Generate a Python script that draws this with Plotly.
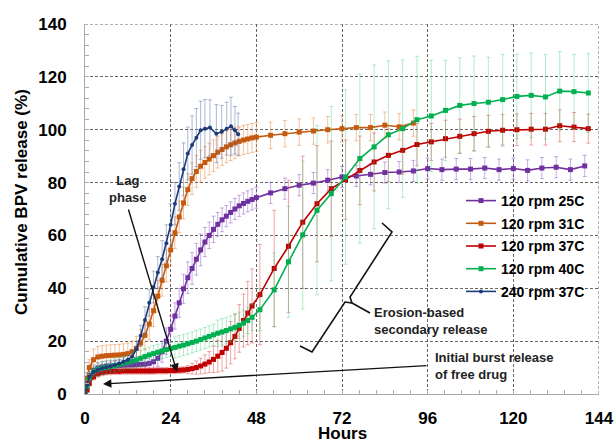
import plotly.graph_objects as go

# ---------------- data ----------------
SERIES_NAMES = ["120 rpm 25C", "120 rpm 31C", "120 rpm 37C", "120 rpm 40C", "240 rpm 37C"]

hours_25c = [0, 0.6, 1.2, 2.4, 3.6, 4.8, 6.0, 7.2, 8.4, 9.6, 10.8, 12.0, 13.2, 14.4, 15.6, 16.8, 18.0, 19.2,
             20.4, 21.6, 22.8, 24.0, 25.2, 26.4, 27.6, 28.8, 30.0, 31.2, 32.4, 33.6, 34.8, 36.0, 37.2, 38.4,
             39.6, 40.8, 42.0, 43.2, 44.4, 45.6, 46.8, 48.0,
             52, 56, 60, 64, 68, 72, 76, 80, 84, 88, 92, 96, 100, 104, 108, 112, 116, 120, 124, 128, 132, 136, 140]
release_25c = [0, 4, 7, 9, 9.8, 10.2, 10.5, 10.6, 10.7, 10.8, 10.9, 11, 11, 11.1, 11.2, 11.3, 11.6, 12.2,
               13.5, 16, 20, 24.5, 29.5, 34.5, 39.8, 44, 47.5, 51, 54.5, 57.5, 60, 62.3, 64.2, 65.9,
               67.3, 68.7, 70, 71.2, 72.1, 72.9, 73.6, 74.3,
               76.1, 77.7, 79, 79.8, 80.9, 82.1, 82.5, 83.1, 83.8, 84, 84.4, 85.3, 84.9, 85.1, 85.1, 85.5, 84.9,
               85.3, 84.6, 85.5, 85.8, 84.9, 86.3]
sd_25c = [0, 1, 1.5, 2, 2, 2, 2, 2, 2, 2, 2, 2, 2, 2, 2, 2, 2, 2.5,
          3, 4, 5, 5, 5, 5.5, 5.5, 6, 6, 6, 6, 5.5, 5, 5, 4.5, 4.5,
          4, 4, 4, 4, 4, 4, 4, 4,
          4, 4, 4, 4, 4, 4, 4, 4, 4, 4, 4, 4, 4, 4, 4, 4, 4, 4, 4, 4, 4, 4, 4]

hours_31c = [0, 0.6, 1.2, 2.4, 3.6, 4.8, 6.0, 7.2, 8.4, 9.6, 10.8, 12.0, 13.2, 14.4, 15.6, 16.8, 18.0, 19.2,
             20.4, 21.6, 22.8, 24.0, 25.2, 26.4, 27.6, 28.8, 30.0, 31.2, 32.4, 33.6, 34.8, 36.0, 37.2, 38.4,
             39.6, 40.8, 42.0, 43.2, 44.4, 45.6, 46.8, 48.0,
             52, 56, 60, 64, 68, 72, 76, 80, 84, 88, 92]
release_31c = [0, 6, 10, 13, 14, 14.3, 14.5, 14.6, 14.7, 14.8, 15, 15.3, 16, 17.3, 19.3, 22.2, 26.5, 31.5,
               37, 43, 48.5, 54.5, 61, 67, 72.3, 77.3, 81.5, 84.2, 86.2, 87.6, 88.9, 90.2, 91.5, 92.5,
               93.5, 94.3, 95, 95.6, 96.1, 96.5, 96.9, 97.2,
               97.9, 98.5, 99.1, 99.5, 100, 100.4, 100.8, 100.8, 101.7, 101.1, 102.5]
sd_31c = [0, 2, 3, 4, 4, 4, 4, 4, 4, 4, 4, 4, 4, 4.5, 5, 5.5, 6, 6,
          6, 6, 6, 6, 6, 6, 6, 6, 6, 6, 6, 6, 6, 6, 6, 6,
          6, 6, 6, 5.5, 5.5, 5.5, 5.5, 5.5,
          5, 5, 5, 5, 5, 5, 5, 5, 5, 5, 5]

hours_37c = [0, 0.6, 1.2, 2.4, 3.6, 4.8, 6.0, 7.2, 8.4, 9.6, 10.8, 12.0, 13.2, 14.4, 15.6, 16.8, 18.0, 19.2,
             20.4, 21.6, 22.8, 24.0, 25.2, 26.4, 27.6, 28.8, 30.0, 31.2, 32.4, 33.6, 34.8, 36.0, 37.2, 38.4,
             39.6, 40.8, 42.0, 43.2, 44.4, 45.6, 46.8,
             49, 53, 57, 61, 65, 69, 73, 77, 81, 85, 89, 93, 97, 101, 105, 109, 113, 117, 121, 125, 129,
             133, 137, 141]
release_37c = [0, 1.5, 4, 6.5, 7.6, 8.1, 8.4, 8.5, 8.6, 8.6, 8.7, 8.7, 8.7, 8.7, 8.7, 8.7, 8.7, 8.7,
               8.8, 8.8, 8.8, 8.9, 8.9, 9.0, 9.1, 9.3, 9.6, 10, 10.6, 11.3, 12.1, 13.1, 14.3, 15.7,
               17.3, 19.4, 21.8, 24.8, 27.8, 30.6, 33.3,
               37.6, 47.5, 55.9, 65, 72, 77.7, 81.1, 84.6, 87.8, 90.3, 92.2, 94.4, 95.4, 96.6, 97.5, 98.5,
               99.4, 99.8, 100, 100.2, 100.2, 101.5, 101, 100.4]
sd_37c = [0, 0.5, 1, 1.2, 1.2, 1.2, 1.2, 1.2, 1.2, 1.2, 1.2, 1.2, 1.2, 1.2, 1.2, 1.2, 1.2, 1.2,
          1.2, 1.2, 1.2, 1.2, 1.2, 1.2, 1.2, 1.5, 2, 2.5, 3, 3.5, 4, 5, 6, 7,
          7.5, 8, 8.5, 9, 10, 12, 14,
          19, 22, 25, 25, 22, 18, 15, 13, 11, 10, 9, 8, 7, 7, 6.5, 6.5, 6, 6, 6, 6, 6, 6, 5.5, 5.5]

hours_40c = list(hours_37c)
release_40c = [0, 3, 6, 8.5, 9.3, 9.8, 10.1, 10.4, 10.8, 11.2, 11.6, 12, 12.4, 12.9, 13.5, 14.2, 14.8, 15.3,
               15.8, 16.3, 16.8, 17.2, 17.6, 18.1, 18.5, 19, 19.5, 20, 20.6, 21.2, 21.8, 22.4, 23, 23.5,
               24, 24.6, 25.2, 26, 26.8, 27.8, 29,
               31.9, 39.4, 50, 60.2, 69.5, 75.8, 82.1, 89.1, 93.5, 98.1, 100.4, 103.8, 105.2, 107.3, 109.2,
               109.9, 110.4, 111.4, 112.6, 113, 112.4, 114.6, 114.4, 113.9]
sd_40c = [0, 1, 1.5, 2, 2.5, 2.5, 2.5, 2.5, 2.5, 2.5, 2.5, 2.5, 3, 3, 3, 3, 3, 3,
          3, 3, 3, 3, 4, 4, 4, 4, 4, 4, 4, 4, 4, 4, 5, 5,
          5, 5, 5, 5, 5, 5, 5,
          8, 14, 21, 28, 32, 33, 33, 32, 31, 28, 26, 24, 21, 19, 18, 18, 17, 17, 16, 16, 16, 15, 14, 15]

hours_240 = [0, 0.6, 1.2, 2.4, 3.6, 4.8, 6.0, 7.2, 8.4, 9.6, 10.8, 12.0, 13.2, 14.4, 15.6, 16.8, 18.0, 19.2,
             20.4, 21.6, 22.8, 24.0, 25.2, 26.4, 27.6, 28.8, 30.0,
             31.2, 32.4, 33.6, 35.0, 36.8, 38.3, 39.7, 40.9, 42.0, 42.9]
release_240 = [0, 3.5, 6.5, 8.3, 9.2, 9.7, 10.1, 10.5, 11, 11.5, 12.2, 13, 14.2, 17, 22, 28, 34.5, 40.5,
               46, 51, 57, 64, 72, 78.5, 85, 91, 94.2,
               97, 99.8, 100.4, 100.8, 98.5, 99.2, 100.4, 101.3, 99.8, 98.3]
sd_240 = [0, 1, 1.5, 1.5, 1.5, 1.5, 1.5, 1.5, 1.5, 1.5, 1.5, 1.5, 2, 3, 4, 5, 5, 6,
          6, 7, 7, 8, 8, 9, 10, 10, 11,
          11, 11, 11, 10.5, 11, 10, 10, 11, 9, 8]

X_TICKS = [0, 24, 48, 72, 96, 120, 144]
Y_TICKS = [0, 20, 40, 60, 80, 100, 120, 140]

# ---------------- styling ----------------
COLORS = ["#7030A0", "#C55A11", "#C00000", "#00B050", "#1F3A78"]
ERR_COLORS = ["rgba(130,70,190,0.45)", "rgba(235,135,60,0.5)", "rgba(220,60,60,0.45)",
              "rgba(40,200,110,0.35)", "rgba(70,100,160,0.45)"]
SYMBOLS = ["square", "square", "square", "square", "circle"]
SIZES = [5, 5, 5, 5, 4]
FONT = "Arial, Liberation Sans, sans-serif"

series = [
    (hours_25c, release_25c, sd_25c),
    (hours_31c, release_31c, sd_31c),
    (hours_37c, release_37c, sd_37c),
    (hours_40c, release_40c, sd_40c),
    (hours_240, release_240, sd_240),
]

fig = go.Figure()
for i, (xs, ys, es) in enumerate(series):
    fig.add_trace(go.Scatter(
        x=xs, y=ys, name=SERIES_NAMES[i], mode="lines+markers", legendgroup="g%d" % i,
        line=dict(color=COLORS[i], width=1.6),
        marker=dict(symbol=SYMBOLS[i], size=SIZES[i], color=COLORS[i]),
        error_y=dict(type="data", array=es, visible=True, color=ERR_COLORS[i],
                     thickness=1, width=2),
    ))

PX_L, PX_R, PX_T, PX_B = 85, 599, 24, 394


def dx(px):
    return (px - PX_L) / (PX_R - PX_L) * 144


def dy(py):
    return (PX_B - py) / (PX_B - PX_T) * 140


ann_font = dict(family=FONT, size=13, color="#222", weight="bold")
annotations = [
    dict(x=dx(128), y=dy(189), xref="x", yref="y", text="Lag<br>phase", showarrow=False,
         font=ann_font, align="center"),
    dict(x=dx(177), y=dy(372), ax=dx(128), ay=dy(208), xref="x", yref="y", axref="x", ayref="y",
         text="", showarrow=True, arrowhead=2, arrowsize=1.2, arrowwidth=1.4, arrowcolor="#111"),
    dict(x=dx(103), y=dy(384), ax=dx(428), ay=dy(365.5), xref="x", yref="y", axref="x", ayref="y",
         text="", showarrow=True, arrowhead=2, arrowsize=1.2, arrowwidth=1.4, arrowcolor="#111"),
    dict(x=dx(372), y=dy(321), xref="x", yref="y", xanchor="left", text="Erosion-based<br>secondary release",
         showarrow=False, font=ann_font, align="left"),
    dict(x=dx(433), y=dy(366), xref="x", yref="y", xanchor="left", text="Initial burst release<br>of free drug",
         showarrow=False, font=ann_font, align="left"),
    dict(x=(21 - PX_L) / (PX_R - PX_L), y=(PX_B - 202) / (PX_B - PX_T), xref="paper", yref="paper",
         xanchor="center", yanchor="middle",
         text="Cumulative BPV release (%)", textangle=-90, showarrow=False,
         font=dict(family=FONT, size=17, color="black", weight="bold")),
    dict(x=(342 - PX_L) / (PX_R - PX_L), y=(PX_B - 433) / (PX_B - PX_T), xref="paper", yref="paper",
         xanchor="center", yanchor="middle", text="Hours", showarrow=False,
         font=dict(family=FONT, size=17, color="black", weight="bold")),
]

brace = "M {},{} L {},{} L {},{} L {},{} L {},{} L {},{} L {},{}".format(
    dx(382), dy(223), dx(392), dy(232), dx(350), dy(297), dx(352), dy(303),
    dx(345), dy(302), dx(312), dy(352), dx(300), dy(346))
shapes = [
    dict(type="path", path=brace, xref="x", yref="y", line=dict(color="#111", width=1.6)),
    dict(type="line", xref="x", yref="y", x0=dx(352), y0=dy(303), x1=dx(370), y1=dy(313),
         line=dict(color="#111", width=1.6)),
    dict(type="line", xref="x", yref="y", x0=0, y0=140, x1=144, y1=140,
         line=dict(color="#666", width=1, dash="3px,2px")),
    dict(type="line", xref="x", yref="y", x0=144, y0=0, x1=144, y1=140,
         line=dict(color="#666", width=1, dash="3px,2px")),
]

tick_font = dict(family=FONT, size=17, color="black", weight="bold")
fig.update_layout(
    width=616, height=440,
    margin=dict(l=PX_L, r=616 - PX_R, t=PX_T, b=440 - PX_B, autoexpand=False),
    paper_bgcolor="white", plot_bgcolor="white",
    font=dict(family=FONT),
    showlegend=True,
    legend=dict(x=(461 - PX_L) / (PX_R - PX_L), y=(PX_B - 185) / (PX_B - PX_T), xanchor="left", yanchor="top",
                bgcolor="rgba(255,255,255,0)", borderwidth=0, itemwidth=30, traceorder="grouped",
                font=dict(family=FONT, size=14, color="black", weight="bold"), tracegroupgap=1.5),
    annotations=annotations,
    shapes=shapes,
    xaxis=dict(range=[0, 144], tickvals=X_TICKS, ticktext=[str(v) for v in X_TICKS],
               showgrid=True, gridcolor="#666", griddash="3px,2px", gridwidth=1,
               showline=True, linecolor="#aaa", linewidth=1, zeroline=False,
               ticks="inside", ticklen=4, tickcolor="#aaa", tickfont=tick_font, ticklabelstandoff=9,
               minor=dict(dtick=4.8, tick0=0, ticks="inside", ticklen=4, tickcolor="#aaa", showgrid=False)),
    yaxis=dict(range=[0, 140], tickvals=Y_TICKS, ticktext=[str(v) for v in Y_TICKS],
               showgrid=True, gridcolor="#666", griddash="3px,2px", gridwidth=1,
               showline=True, linecolor="#aaa", linewidth=1, zeroline=False,
               ticks="inside", ticklen=4, tickcolor="#aaa", tickfont=tick_font, ticklabelstandoff=14,
               minor=dict(dtick=4, tick0=0, ticks="inside", ticklen=4, tickcolor="#aaa", showgrid=False)),
)

fig.write_html("out.html", config={"displayModeBar": False},
               post_script="document.body.style.margin='0';document.body.style.overflow='hidden';")
